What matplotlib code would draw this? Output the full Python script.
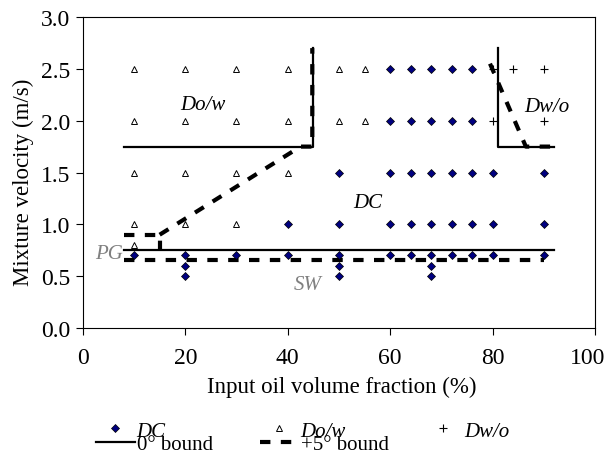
import numpy as np
import matplotlib
matplotlib.use("Agg")
import matplotlib.pyplot as plt
import matplotlib.transforms as mtransforms
from matplotlib.lines import Line2D

plt.rcParams['font.family'] = ['Liberation Serif', 'DejaVu Serif']

# flow pattern observations (oil fraction %, mixture velocity m/s)
dc_x = [60, 64, 68, 72, 76,
        60, 64, 68, 72, 76,
        50, 60, 64, 68, 72, 76, 80, 90,
        40, 50, 60, 64, 68, 72, 76, 80, 90,
        10, 20, 30, 40, 50, 60, 64, 68, 72, 76, 80, 90,
        20, 50, 68,
        20, 50, 68]
dc_y = [2.5] * 5 + [2.0] * 5 + [1.5] * 8 + [1.0] * 9 + [0.7] * 12 + [0.6] * 3 + [0.5] * 3

dow_x = [10, 20, 30, 40, 50, 55,
         10, 20, 30, 40, 50, 55,
         10, 20, 30, 40,
         10, 20, 30,
         10]
dow_y = [2.5] * 6 + [2.0] * 6 + [1.5] * 4 + [1.0] * 3 + [0.8]

dwo_x = [80, 84, 90, 80, 90]
dwo_y = [2.5, 2.5, 2.5, 2.0, 2.0]

# 0 deg boundaries
b0_low_x = [8, 92]
b0_low_y = [0.75, 0.75]
b0_left_x = [8, 45, 45]
b0_left_y = [1.75, 1.75, 2.7]
b0_right_x = [81, 81, 92]
b0_right_y = [2.7, 1.75, 1.75]

# +5 deg boundaries
b5_low_x = [8, 90]
b5_low_y = [0.66, 0.66]
b5_pg_x = [8, 15, 15]
b5_pg_y = [0.9, 0.9, 0.75]
b5_left_x = [15, 42.5, 44.8, 44.8]
b5_left_y = [0.9, 1.75, 1.75, 2.7]
b5_right_x = [79.5, 86.5, 92]
b5_right_y = [2.55, 1.75, 1.75]

fig = plt.figure(figsize=(6.09, 4.56), dpi=100)
ax = fig.add_axes([0.136, 0.2785, 0.841, 0.682])

dash = dict(color='black', lw=3, linestyle=(0, (2.5, 2.5)))
solid = dict(color='black', lw=1.6)
for xs, ys in [(b0_low_x, b0_low_y), (b0_left_x, b0_left_y), (b0_right_x, b0_right_y)]:
    ax.plot(xs, ys, **solid)
for xs, ys in [(b5_low_x, b5_low_y), (b5_pg_x, b5_pg_y),
               (b5_left_x, b5_left_y), (b5_right_x, b5_right_y)]:
    ax.plot(xs, ys, **dash)

dc_style = dict(marker='D', color='#000080', mec='black', mew=0.5, ms=3.8, ls='none')
dow_style = dict(marker='^', mfc='white', mec='black', mew=0.7, ms=4.5, ls='none')
dwo_style = dict(marker='+', color='black', mew=0.8, ms=5.5, ls='none')
ax.plot(dc_x, dc_y, **dc_style)
ax.plot(dow_x, dow_y, **dow_style)
ax.plot(dwo_x, dwo_y, **dwo_style)

# region labels
ax.text(23.5, 2.16, 'Do/w', style='italic', fontsize=15, ha='center', va='center')
ax.text(90.6, 2.14, 'Dw/o', style='italic', fontsize=15, ha='center', va='center')
ax.text(55.7, 1.21, 'DC', style='italic', fontsize=15, ha='center', va='center')
ax.text(7.8, 0.72, 'PG', style='italic', fontsize=15, color='gray', ha='right', va='center')
ax.text(43.9, 0.42, 'SW', style='italic', fontsize=15, color='gray', ha='center', va='center')

ax.set_xlim(0, 100)
ax.set_ylim(0, 3.0)
ax.set_xticks(np.arange(0, 101, 20))
ax.set_yticks(np.arange(0, 3.01, 0.5))
ax.set_yticklabels(['%.1f' % v for v in np.arange(0, 3.01, 0.5)])
ax.tick_params(labelsize=17, direction='out', length=5)
ax.tick_params(axis='x', pad=9)
ax.tick_params(axis='y', pad=4)
ax.set_xlabel('Input oil volume fraction (%)', fontsize=16.5)
ax.set_ylabel('Mixture velocity (m/s)', fontsize=16.5)
ax.xaxis.set_label_coords(0.506, -0.154)
ax.yaxis.set_label_coords(-0.096, 0.473)

# nudge "100" so it stays inside the figure
last = ax.get_xticklabels()[-1]
last.set_transform(last.get_transform() + mtransforms.ScaledTranslation(-5 / 72, 0, fig.dpi_scale_trans))

# legend: three fixed-width columns like the original
cols = [([Line2D([], [], **dc_style), Line2D([], [], **solid)], ['DC', '0° bound'], 0.1576),
        ([Line2D([], [], **dow_style), Line2D([], [], **dash)], ['Do/w', '+5° bound'], 0.427),
        ([Line2D([], [], **dwo_style)], ['Dw/o'], 0.696)]
for handles, labels, x0 in cols:
    leg = fig.legend(handles, labels, loc='upper left', bbox_to_anchor=(x0, 0.0745),
                     frameon=False, fontsize=15, handlelength=1.85, handletextpad=0.1,
                     labelspacing=-0.3, borderpad=0, borderaxespad=0)
    for t in leg.get_texts():
        if 'bound' not in t.get_text():
            t.set_style('italic')

fig.savefig('out.png', dpi=100)
